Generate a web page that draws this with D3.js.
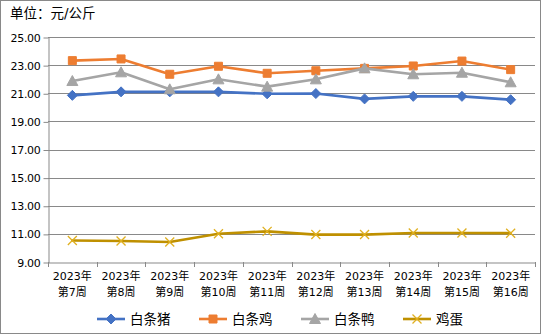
<!DOCTYPE html>
<html><head><meta charset="utf-8">
<script src="https://cdn.jsdelivr.net/npm/d3@7"></script>
<style>body{margin:0;background:#fff}svg{display:block}text{font-family:"DejaVu Sans","Noto Sans CJK SC",sans-serif}</style>
</head><body>
<script>
const categories = ["2023年\n第7周","2023年\n第8周","2023年\n第9周","2023年\n第10周","2023年\n第11周","2023年\n第12周","2023年\n第13周","2023年\n第14周","2023年\n第15周","2023年\n第16周"];
const pig     = [20.85,21.10,21.10,21.10,20.96,20.98,20.60,20.78,20.78,20.54];
const chicken = [23.32,23.44,22.35,22.92,22.42,22.60,22.77,22.94,23.29,22.68];
const duck    = [21.87,22.49,21.28,21.99,21.47,21.99,22.77,22.35,22.46,21.78];
const egg     = [10.53,10.49,10.42,11.01,11.18,10.95,10.95,11.06,11.06,11.05];
const seriesNames = ["白条猪","白条鸡","白条鸭","鸡蛋"];
const yTicks = [9,11,13,15,17,19,21,23,25];
const unitLabel = "单位：元/公斤";

const W=544,H=336;
const colors=["#4472C4","#ED7D31","#A5A5A5","#BF9000"];
const markers=["diamond","square","triangle","x"];
const svg=d3.select("body").append("svg").attr("width",W).attr("height",H);
svg.append("rect").attr("x",0.5).attr("y",0.5).attr("width",540).attr("height",333).attr("fill","#fff").attr("stroke","#898989");

const m={l:48,r:535,t:37,b:262};
const x=d3.scaleBand().domain(categories).range([m.l,m.r]);
const y=d3.scaleLinear().domain([9,25]).range([m.b,m.t]);

svg.append("text").attr("x",10).attr("y",18).attr("font-size",13.5).attr("fill","#000")
 .attr("font-family","Noto Sans CJK SC, sans-serif").text(unitLabel);

// gridlines
svg.append("g").selectAll("line").data(yTicks.slice(1)).join("line")
 .attr("x1",m.l).attr("x2",m.r).attr("y1",d=>Math.round(y(d))+0.5).attr("y2",d=>Math.round(y(d))+0.5)
 .attr("stroke","#898989").attr("stroke-width",1);

const yAxis=svg.append("g").attr("transform",`translate(${m.l+0.5},0.5)`)
 .call(d3.axisLeft(y).tickValues(yTicks).tickFormat(d3.format(".2f")).tickSize(5).tickSizeOuter(0));
yAxis.select(".domain").attr("stroke","#898989");
yAxis.selectAll(".tick line").attr("stroke","#898989");
yAxis.selectAll("text").attr("font-size",11).attr("fill","#000").attr("x",-8).attr("font-family","DejaVu Sans Mono, monospace").attr("letter-spacing","-0.3");

const xAxis=svg.append("g").attr("transform",`translate(0.5,${m.b+0.5})`)
 .call(d3.axisBottom(x).tickSize(0).tickSizeOuter(0).tickFormat(""));
xAxis.select(".domain").attr("stroke","#898989");
// category boundary ticks
const bounds=d3.range(categories.length+1).map(i=>m.l+i*x.bandwidth());
svg.append("g").selectAll("line").data(bounds).join("line")
 .attr("x1",d=>Math.round(d)+0.5).attr("x2",d=>Math.round(d)+0.5).attr("y1",m.b).attr("y2",m.b+5)
 .attr("stroke","#898989");
const lab=svg.append("g").selectAll("text").data(categories).join("text")
 .attr("text-anchor","middle").attr("font-size",11).attr("fill","#000")
 .attr("transform",d=>`translate(${x(d)+x.bandwidth()/2},0)`);
lab.selectAll("tspan").data(d=>d.split("\n")).join("tspan")
 .attr("x",0).attr("y",(d,i)=>280+i*16).text(d=>d);

function markerPath(type){
 if(type==="diamond") return "M0,-5L5,0L0,5L-5,0Z";
 if(type==="square") return "M-4,-4H4V4H-4Z";
 if(type==="triangle") return "M0,-5.5L5.5,4.5H-5.5Z";
 return "M-4.5,-4.5L4.5,4.5M-4.5,4.5L4.5,-4.5";
}
const data=[pig,chicken,duck,egg];
const line=d3.line().x((d,i)=>x(categories[i])+x.bandwidth()/2).y(d=>y(d));
data.forEach((s,k)=>{
 const g=svg.append("g");
 g.append("path").datum(s).attr("d",line).attr("fill","none").attr("stroke",colors[k]).attr("stroke-width",2.6).attr("stroke-linejoin","round").attr("stroke-linecap","round");
 g.selectAll("path.m").data(s).join("path").attr("class","m")
  .attr("transform",(d,i)=>`translate(${x(categories[i])+x.bandwidth()/2},${y(d)})`)
  .attr("d",markerPath(markers[k]))
  .attr("fill",markers[k]==="x"?"none":colors[k])
  .attr("stroke",markers[k]==="x"?"#E0B020":colors[k]).attr("stroke-width",markers[k]==="x"?1.3:1);
});

// legend
const legX=[97,199,301,403];
seriesNames.forEach((n,k)=>{
 const g=svg.append("g").attr("transform",`translate(${legX[k]},319)`);
 g.append("line").attr("x1",0).attr("x2",28).attr("stroke",colors[k]).attr("stroke-width",2.6);
 g.append("path").attr("transform","translate(14,0)").attr("d",markerPath(markers[k]))
  .attr("fill",markers[k]==="x"?"none":colors[k]).attr("stroke",markers[k]==="x"?"#E0B020":colors[k]).attr("stroke-width",markers[k]==="x"?1.3:1);
 g.append("text").attr("x",33).attr("y",5).attr("font-size",13.5).attr("fill","#000").text(n);
});
</script>
</body></html>
